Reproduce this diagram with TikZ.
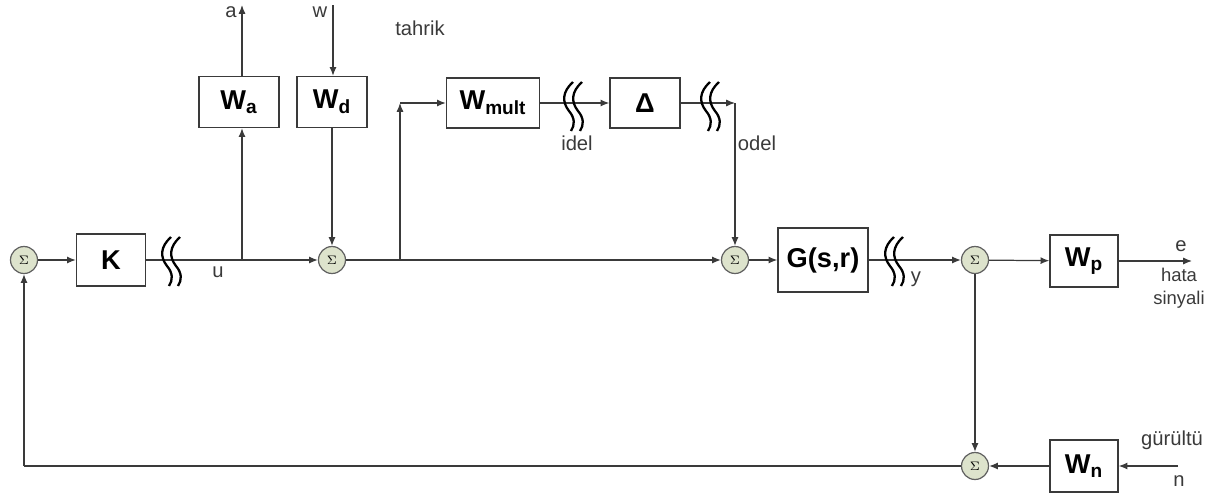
\documentclass[tikz,border=0pt]{standalone}
\usepackage{fontspec}
\setmainfont{Liberation Sans}
\usetikzlibrary{arrows.meta,calc}
\definecolor{ln}{HTML}{3A3A3A}
\definecolor{sumfill}{HTML}{DDE3CC}
\tikzset{
  blk/.style={draw=ln,line width=0.8pt,fill=white,font=\bfseries\fontsize{15.5}{17}\selectfont,inner sep=0pt},
  sumnode/.style={circle,draw=ln!80,line width=0.7pt,fill=sumfill,minimum size=0.54cm,inner sep=0pt,font=\scriptsize},
  arr/.style={draw=ln,line width=0.7pt,-{Latex[length=5pt,width=4pt]}},
  ln/.style={draw=ln,line width=0.7pt},
  lbl/.style={font=\fontsize{11.5}{13}\selectfont,text=ln,inner sep=1pt},
  wave/.style={line width=1.3pt,draw=black}
}
\newcommand{\wav}[2]{%
  \foreach \dx in {0,9}{%
    \draw[wave] ($(#1+\dx+8,#2-24)$) .. controls ($(#1+\dx-3,#2-14)$) and ($(#1+\dx-3,#2-4)$) .. ($(#1+\dx+4,#2+5)$)
      .. controls ($(#1+\dx+10,#2+12)$) and ($(#1+\dx+10,#2+19)$) .. ($(#1+\dx+6,#2+25)$);}}
\begin{document}
\begin{tikzpicture}[x=0.02cm,y=-0.02cm]
\useasboundingbox (0,0) rectangle (1205,495);
% nodes
\node[sumnode] (s1) at (24,260) {$\Sigma$};
\node[blk,minimum width=1.38cm,minimum height=1.04cm] (K) at (111,260) {K};
\node[sumnode] (s2) at (332,260) {$\Sigma$};
\node[blk,minimum width=1.6cm,minimum height=1.02cm] (Wa) at (239,102) {W\textsubscript{a}};
\node[blk,minimum width=1.4cm,minimum height=1.02cm] (Wd) at (332,102) {W\textsubscript{d}};
\node[blk,minimum width=1.86cm,minimum height=1.0cm] (Wm) at (493,103) {W\textsubscript{mult}};
\node[blk,minimum width=1.4cm,minimum height=1.0cm] (D) at (645,103) {Δ};
\node[sumnode] (s3) at (735,260) {$\Sigma$};
\node[blk,minimum width=1.8cm,minimum height=1.28cm] (G) at (823,260) {G(s,r)};
\node[sumnode] (s4) at (975,260) {$\Sigma$};
\node[blk,minimum width=1.36cm,minimum height=1.04cm] (Wp) at (1084,261) {W\textsubscript{p}};
\node[sumnode] (s5) at (975,466) {$\Sigma$};
\node[blk,minimum width=1.36cm,minimum height=1.04cm] (Wn) at (1084,466) {W\textsubscript{n}};
% coordinates
\coordinate (bu) at (242,260);
\coordinate (a) at (242,5);
\coordinate (w) at (333,5);
\coordinate (bm) at (400,260);
\coordinate (bt) at (400,103);
\coordinate (od) at (735,103);
\coordinate (e) at (1192,261);
\coordinate (n) at (1178,466);
\coordinate (fb) at (24,466);
% connectors
\draw[arr] (s1) -- (K);
\draw[arr] (K) -- (s2);
\draw[arr] (bu) -- (bu |- Wa.south);
\draw[arr] (Wa.north -| a) -- (a);
\draw[arr] (w) -- (Wd.north -| w);
\draw[arr] (Wd) -- (s2);
\draw[ln] (s2) -- (bm);
\draw[arr] (bm) -- (bt);
\draw[arr] (bt) -- (Wm.west |- bt);
\draw[arr] (bm) -- (s3);
\draw[arr] (Wm) -- (D);
\draw[arr] (D) -- (od);
\draw[arr] (od) -- (s3);
\draw[arr] (s3) -- (G);
\draw[arr] (G) -- (s4);
\draw[arr] (s4) -- (Wp);
\draw[arr] (Wp) -- (e);
\draw[arr] (s4) -- (s5);
\draw[arr] (n) -- (Wn);
\draw[arr] (Wn) -- (s5);
\draw[ln] (s5) -- (fb);
\draw[arr] (fb) -- (s1);
% waves
\wav{163}{261}
\wav{565}{106}
\wav{702}{106}
\wav{886}{261}
% labels
\node[lbl] (lu) at (218,272) {u};
\node[lbl] (la) at (231,12) {a};
\node[lbl] (lw) at (320,12) {w};
\node[lbl] (lt) at (420,28) {tahrik};
\node[lbl] (li) at (577,143) {idel};
\node[lbl] (lo) at (757,143) {odel};
\node[lbl] (ly) at (916,279) {y};
\node[lbl] (le) at (1181,246) {e};
\node[lbl,align=center,font=\fontsize{10.5}{13}\selectfont] (lh) at (1179,288) {hata\\sinyali};
\node[lbl] (lg) at (1172,440) {gürültü};
\node[lbl] (ln) at (1179,481) {n};
\end{tikzpicture}
\end{document}
